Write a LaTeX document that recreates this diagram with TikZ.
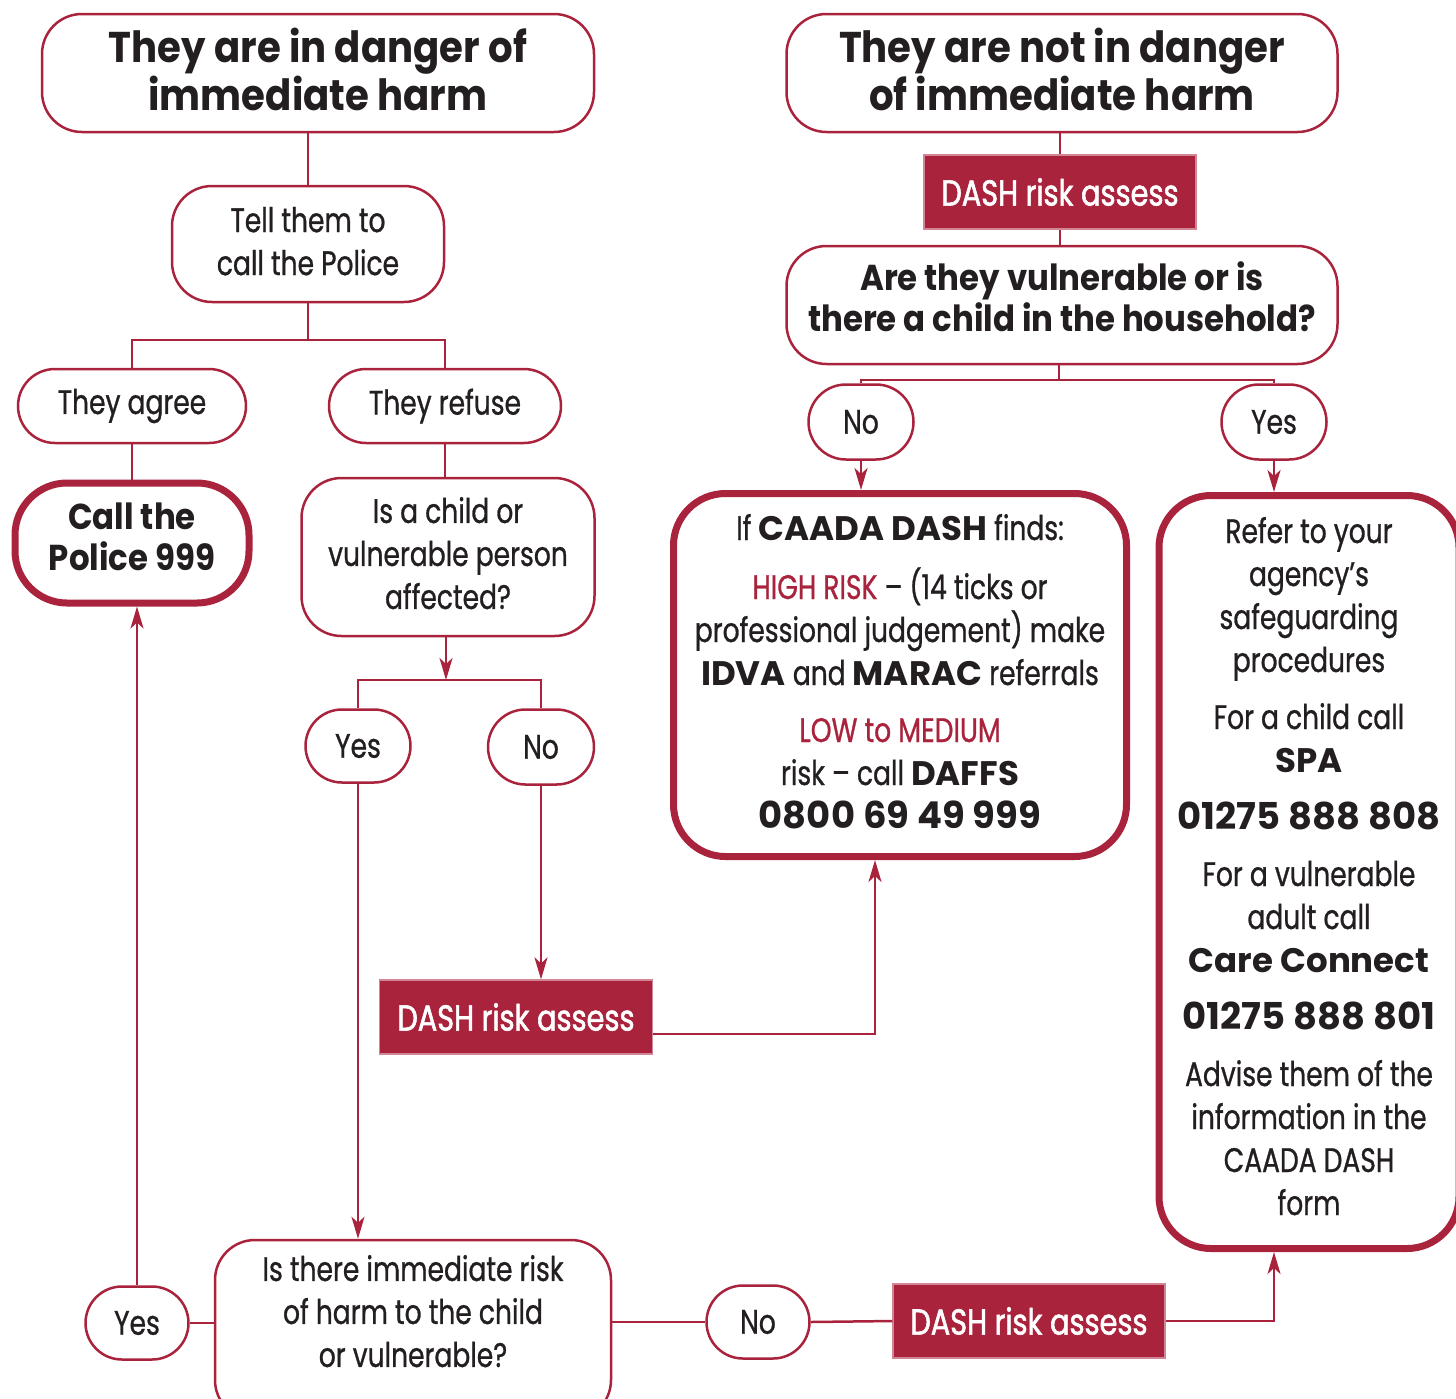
\documentclass[tikz,border=0pt]{standalone}
\usepackage{fontspec}
\setmainfont{Poppins}
\newfontfamily\headfont[FakeStretch=0.9]{Poppins}
\newfontfamily\heavyfont{Poppins}
\newfontfamily\bodyfont[FakeStretch=0.78, FakeBold=0.8]{Poppins}
\newfontfamily\dashfont[FakeStretch=0.8, FakeBold=1.6]{Poppins}
\usetikzlibrary{arrows.meta}
\usetikzlibrary{shapes.misc}
\definecolor{dashred}{RGB}{170,35,61}
\definecolor{inkgray}{RGB}{35,31,32}
\newcommand{\heavy}[1]{{\heavyfont\bfseries #1}}
\newcommand{\phone}[1]{{\heavyfont\bfseries\fontsize{18.5}{21.5}\selectfont #1}}

\begin{document}
\begin{tikzpicture}[
    x=0.5pt, y=-0.5pt,
    every node/.style={text=inkgray, align=center, inner sep=0pt},
    body_text/.style={font=\bodyfont\fontsize{17}{21.5}\selectfont},
    head_text/.style={font=\headfont\bfseries\fontsize{18}{20.5}\selectfont},
    title_text/.style={font=\headfont\bfseries\fontsize{21.5}{21}\selectfont},
    box_dim/.style 2 args={minimum width=#1*0.5pt, minimum height=#2*0.5pt},
    plain_box/.style={draw=dashred, line width=1.25pt, rounded corners=20pt, fill=white},
    strong_box/.style={draw=dashred, line width=3.5pt, rounded corners=26pt, fill=white},
    pill/.style={draw=dashred, line width=1.25pt, rounded rectangle, fill=white, body_text},
    dash_box/.style={fill=dashred, draw=dashred!55!white, line width=0.6pt, text=white,
      font=\dashfont\fontsize{18}{21.5}\selectfont},
    link/.style={draw=dashred, line width=1.25pt},
    flow_arrow/.style={link, -{Stealth[length=11pt,width=6.5pt,inset=3pt]}}
  ]

% Page frame (pixel grid of the reference, y runs downwards)
\useasboundingbox (0,0) rectangle (1456,1398);
\clip (0,0) rectangle (1456,1398);

% Left column: danger of immediate harm
\node[plain_box, title_text, box_dim={552}{118}, text depth=4pt] (danger) at (318,73)
  {They are in danger of\\immediate harm};
\node[plain_box, body_text, box_dim={272}{116}, text depth=3pt] (tell) at (308,244)
  {Tell them to\\call the Police};
\node[pill, box_dim={228}{74}] (agree) at (132,406) {They agree};
\node[pill, box_dim={232}{74}] (refuse) at (445,406) {They refuse};
\node[strong_box, head_text, box_dim={234}{120}, text depth=6pt] (police) at (132,543)
  {Call the\\Police 999};
\node[plain_box, body_text, box_dim={293}{158}, text depth=4pt] (affected) at (448,557)
  {Is a child or\\vulnerable person\\affected?};
\node[pill, box_dim={105}{73}] (yesA) at (358,746) {Yes};
\node[pill, box_dim={106}{75}] (noA) at (541,747) {No};
\node[dash_box, box_dim={273}{74}] (dashA) at (516,1017) {DASH risk assess};

% Bottom row
\node[pill, box_dim={103}{73}] (yesC) at (137,1323) {Yes};
\node[plain_box, body_text, box_dim={396}{180}, text depth=19pt] (risk) at (413,1330)
  {Is there immediate risk\\of harm to the child\\or vulnerable?};
\node[pill, box_dim={103}{73}] (noC) at (758,1322) {No};
\node[dash_box, box_dim={272}{74}] (dashC) at (1029,1321) {DASH risk assess};

% Right column: not in danger of immediate harm
\node[plain_box, title_text, box_dim={551}{118}, text depth=4pt] (notdanger) at (1062,73)
  {They are not in danger\\of immediate harm};
\node[dash_box, box_dim={272}{74}] (dashB) at (1060,192) {DASH risk assess};
\node[plain_box, head_text, box_dim={551}{118}, text depth=8.5pt] (vulnerable) at (1062,305)
  {Are they vulnerable or is\\there a child in the household?};
\node[pill, box_dim={105}{75}] (noB) at (861,422) {No};
\node[pill, box_dim={105}{75}] (yesB) at (1274,422) {Yes};

% Outcome boxes
\node[strong_box, body_text, box_dim={453}{363}, text depth=4pt] (caada) at (900,675)
  {If \heavy{CAADA DASH} finds:\\[8pt]
   {\color{dashred}HIGH RISK} – (14 ticks or\\
   professional judgement) make\\
   \heavy{IDVA} and \heavy{MARAC} referrals\\[7pt]
   {\color{dashred}LOW to MEDIUM}\\
   risk – call \heavy{DAFFS}\\
   \phone{0800 69 49 999}};
\node[strong_box, body_text, box_dim={300}{753}, text depth=6pt] (refer) at (1309,872)
  {Refer to your\\agency’s\\safeguarding\\procedures\\[7pt]
   For a child call\\\heavy{SPA}\\[7pt]
   \phone{01275 888 808}\\[7pt]
   For a vulnerable\\adult call\\\heavy{Care Connect}\\[7pt]
   \phone{01275 888 801}\\[7pt]
   Advise them of the\\information in the\\CAADA DASH\\form};

% Forks where one line splits into two
\coordinate (forkA) at (308,340);
\coordinate (forkB) at (446,680);
\coordinate (forkC) at (1059,380);

% Connectors, left column
\draw[link] (tell.north) -- (tell.north |- danger.south);
\draw[link] (tell.south) -- (forkA);
\draw[link] (agree.north) |- (forkA) -| (refuse.north);
\draw[link] (agree.south) -- (police.north);
\draw[link] (refuse.south) -- (refuse.south |- affected.north);
\draw[flow_arrow] (affected.south -| forkB) -- (forkB);
\draw[link] (yesA.north) |- (forkB) -| (noA.north);
\draw[flow_arrow] (yesA.south) -- (yesA.south |- risk.north);
\draw[flow_arrow] (noA.south) -- (noA.south |- dashA.north);
\draw[flow_arrow] ([yshift=-8.5pt]dashA.east) -| ([xshift=-12.5pt]caada.south);

% Connectors, bottom row
\draw[flow_arrow] (yesC.north) -- (yesC.north |- police.south);
\draw[link] (yesC.east) -- (yesC.east -| risk.west);
\draw[link] (noC.west -| risk.east) -- (noC.west);
\draw[link] (noC.east) -- (dashC.west);
\draw[flow_arrow] (dashC.east) -| (yesB.south |- refer.south);

% Connectors, right column
\draw[link] (notdanger.south -| dashB.north) -- (dashB.north);
\draw[link] (dashB.south) -- (dashB.south |- vulnerable.north);
\draw[link] (vulnerable.south -| forkC) -- (forkC);
\draw[link] (noB.north) |- (forkC) -| (yesB.north);
\draw[flow_arrow] (noB.south) -- (noB.south |- caada.north);
\draw[flow_arrow] (yesB.south) -- (yesB.south |- refer.north);

\end{tikzpicture}
\end{document}
